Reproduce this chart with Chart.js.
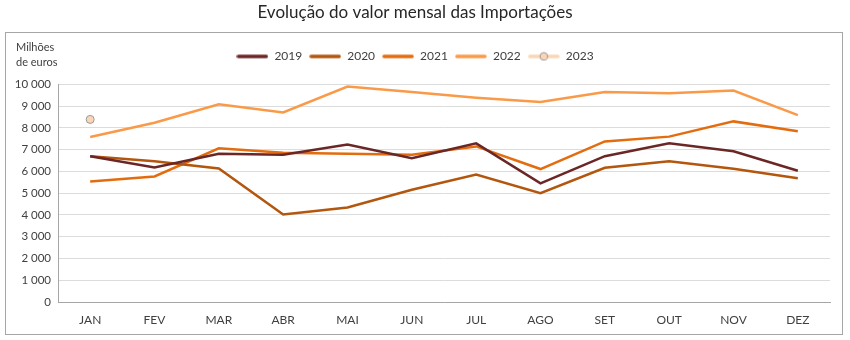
<!DOCTYPE html>
<html>
<head>
<meta charset="utf-8">
<script src="https://cdn.jsdelivr.net/npm/chart.js@4"></script>
<style>
  html, body { margin: 0; padding: 0; background: #fff; }
  #wrap { width: 850px; height: 340px; }
</style>
</head>
<body>
<div id="wrap"><canvas id="chart_imp" width="850" height="340"></canvas></div>
<script>
let months = ['JAN', 'FEV', 'MAR', 'ABR', 'MAI', 'JUN', 'JUL', 'AGO', 'SET', 'OUT', 'NOV', 'DEZ'];
let v2019 = [6700, 6180, 6810, 6770, 7240, 6610, 7290, 5450, 6700, 7290, 6930, 6030];
let v2020 = [6700, 6470, 6140, 4020, 4340, 5160, 5860, 5000, 6170, 6470, 6120, 5690];
let v2021 = [5540, 5770, 7060, 6860, 6810, 6770, 7150, 6110, 7380, 7600, 8300, 7850];
let v2022 = [7580, 8240, 9090, 8710, 9900, 9650, 9390, 9190, 9650, 9590, 9720, 8590];
let v2023 = [8390, null, null, null, null, null, null, null, null, null, null, null];
let yTicks = [0, 1000, 2000, 3000, 4000, 5000, 6000, 7000, 8000, 9000, 10000];

let colors = {
    c2019: '#6b2626',
    c2020: '#b3560e',
    c2021: '#e36c0f',
    c2022: '#fa9a48',
    c2023: '#fcd5b5'
};

let fontFam = 'Lato, "Open Sans", sans-serif';

// little canvases used as legend symbols
function swatch(color, marker) {
    let c = document.createElement('canvas');
    c.width = 32;
    c.height = 10;
    let g = c.getContext('2d');
    g.strokeStyle = color;
    g.lineWidth = 3.5;
    g.lineCap = 'round';
    g.beginPath();
    g.moveTo(2, 5);
    g.lineTo(30, 5);
    g.stroke();
    if (marker) {
        g.beginPath();
        g.arc(16, 5, 3.8, 0, Math.PI * 2);
        g.fillStyle = color;
        g.fill();
        g.lineWidth = 1;
        g.strokeStyle = '#9a9a9a';
        g.stroke();
    }
    return c;
}

function fmt(v) {
    return String(v).replace(/\B(?=(\d{3})+(?!\d))/g, ' ');
}

let frame = {
    id: 'frame',
    beforeInit(chart) {
        let origFit = chart.legend.fit;
        chart.legend.fit = function () {
            origFit.call(this);
            this.height += 12;
        };
    },
    beforeDraw(chart) {
        let ctx = chart.ctx;
        ctx.save();
        ctx.fillStyle = '#fff';
        ctx.fillRect(0, 0, chart.width, chart.height);
        ctx.strokeStyle = '#a6a6a6';
        ctx.lineWidth = 1;
        ctx.strokeRect(5.5, 32.5, 837, 302);
        ctx.fillStyle = '#404040';
        ctx.font = '11px ' + fontFam;
        ctx.textBaseline = 'middle';
        ctx.textAlign = 'left';
        ctx.fillText('Milhões', 16, 47);
        ctx.fillText('de euros', 16, 62);
        ctx.restore();
    }
};

let ctx_imp = document.getElementById('chart_imp');

let line = (label, data, color) => ({
    label: label,
    data: data,
    borderColor: color,
    backgroundColor: color,
    borderWidth: 2.5,
    pointRadius: 0,
    pointHoverRadius: 0,
    tension: 0,
    fill: false
});

let chart_imp = new Chart(ctx_imp, {
    type: 'line',
    data: {
        labels: months,
        datasets: [
            line('2019', v2019, colors.c2019),
            line('2020', v2020, colors.c2020),
            line('2021', v2021, colors.c2021),
            line('2022', v2022, colors.c2022),
            {
                label: '2023',
                data: v2023,
                borderColor: colors.c2023,
                backgroundColor: colors.c2023,
                borderWidth: 2.5,
                pointRadius: 4,
                pointBackgroundColor: colors.c2023,
                pointBorderColor: '#9a9a9a',
                pointBorderWidth: 1
            }
        ]
    },
    plugins: [frame],
    options: {
        responsive: false,
        maintainAspectRatio: false,
        animation: false,
        layout: { padding: { left: 0, right: 20, top: 0, bottom: 0 } },
        plugins: {
            title: {
                display: true,
                text: 'Evolução do valor mensal das Importações',
                color: '#262626',
                font: { family: fontFam, size: 17, weight: 'normal' },
                padding: { top: 2, bottom: 21 }
            },
            legend: {
                display: true,
                position: 'top',
                labels: {
                    usePointStyle: true,
                    pointStyleWidth: 32,
                    padding: 7,
                    color: '#404040',
                    font: { family: fontFam, size: 12 },
                    generateLabels(chart) {
                        return chart.data.datasets.map((ds, i) => ({
                            text: ds.label,
                            pointStyle: swatch(ds.borderColor, i === 4),
                            fontColor: '#404040',
                            lineWidth: 0,
                            hidden: false,
                            datasetIndex: i
                        }));
                    }
                }
            },
            tooltip: { enabled: false }
        },
        scales: {
            x: {
                offset: true,
                grid: { display: false, drawTicks: false },
                border: { display: true, color: '#a6a6a6' },
                ticks: {
                    color: '#404040',
                    padding: 11,
                    font: { family: fontFam, size: 12 }
                },
                afterFit(scale) { scale.height = 38; }
            },
            y: {
                min: 0,
                max: 10000,
                afterBuildTicks(scale) {
                    scale.ticks = yTicks.map(v => ({ value: v }));
                },
                grid: { color: '#dcdcdc', drawTicks: false },
                border: { display: true, color: '#a6a6a6' },
                ticks: {
                    color: '#404040',
                    padding: 7,
                    font: { family: fontFam, size: 11.5 },
                    callback: v => fmt(v)
                },
                afterFit(scale) { scale.width = 58; }
            }
        }
    }
});
</script>
</body>
</html>
